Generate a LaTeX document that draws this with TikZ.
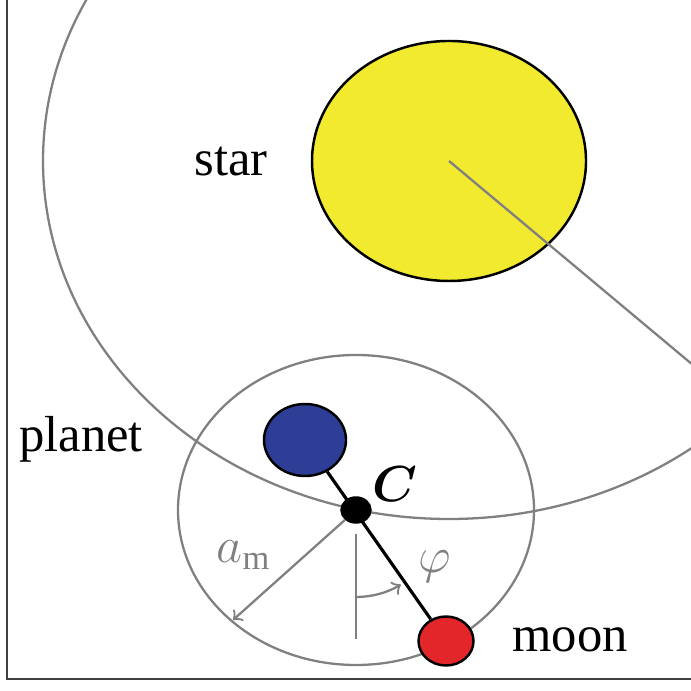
\documentclass[tikz,border=0pt]{standalone}
\usepackage{amsmath,amssymb,bm}
\usepackage{fontspec}
\setmainfont{Liberation Serif}
\usepackage{xcolor}
\usepackage{tikz}
\usetikzlibrary{shapes.geometric, arrows, positioning, backgrounds, calc}

\definecolor{staryellow}{HTML}{F2EA2E}
\definecolor{planetblue}{HTML}{2E3E96}
\definecolor{moonred}{HTML}{E3262A}
\definecolor{orbitgray}{HTML}{808080}

\begin{document}
\begin{tikzpicture}[
    body/.style={draw=black, ellipse, inner sep=0pt, line width=0.7pt},
    orbit/.style={draw=orbitgray, line width=0.65pt},
    bodylbl/.style={font=\fontsize{14.4}{17}\selectfont, anchor=base},
    mathlbl/.style={text=orbitgray, font=\fontsize{14}{16}\selectfont},
    centrelbl/.style={font=\fontsize{13.5}{15}\selectfont},
    arrow/.style={orbitgray, line width=0.65pt, ->, >=to}
]
\clip (0,0) rectangle (6.91,6.91);

% Nodes
\node (star) [body, fill=staryellow, minimum width=2.74cm, minimum height=2.40cm] at (4.49,5.30) {};
\node (cdot) [body, fill=black, minimum width=0.29cm, minimum height=0.25cm] at (3.56,1.81) {};
\node (planet) [body, fill=planetblue, minimum width=0.82cm, minimum height=0.72cm] at (3.05,2.51) {};
\node (moon) [body, fill=moonred, minimum width=0.55cm, minimum height=0.49cm] at (4.46,0.50) {};

\node (starlbl) [bodylbl] at (2.31,5.15) {star};
\node (planetlbl) [bodylbl] at (0.81,2.39) {planet};
\node (moonlbl) [bodylbl] at (5.70,0.39) {moon};
\node (centre) [centrelbl] at (3.95,2.07) {$\bm{C}$};
\node (amlbl) [mathlbl] at (2.44,1.36) {$a_{\mathrm{m}}$};
\node (philbl) [mathlbl] at (4.35,1.24) {$\varphi$};

\coordinate (rim) at (7.30,2.95);
\coordinate (am) at (2.33,0.71);
\coordinate (vbot) at (3.56,0.52);

% Orbits and the planet-moon bar, behind the bodies
\begin{scope}[on background layer]
    \path [orbit] (star.center) ellipse [x radius=4.06, y radius=3.58];
    \path [orbit] (cdot.center) ellipse [x radius=1.78, y radius=1.55];
    \draw [line width=0.9pt] (planet) -- (moon);
\end{scope}

% Edges
\draw [orbit] (star.center) -- (rim);
\draw [arrow] (cdot) -- (am);
\draw [orbit] ([yshift=-1mm]cdot.south) -- (vbot);
\draw [arrow] ([yshift=-0.87cm]cdot.center) arc [start angle=-90, end angle=-59, radius=0.87];

% Frame
\draw [line width=0.6pt, black!75] (0.07,7) |- (7,0.12);
\end{tikzpicture}
\end{document}
